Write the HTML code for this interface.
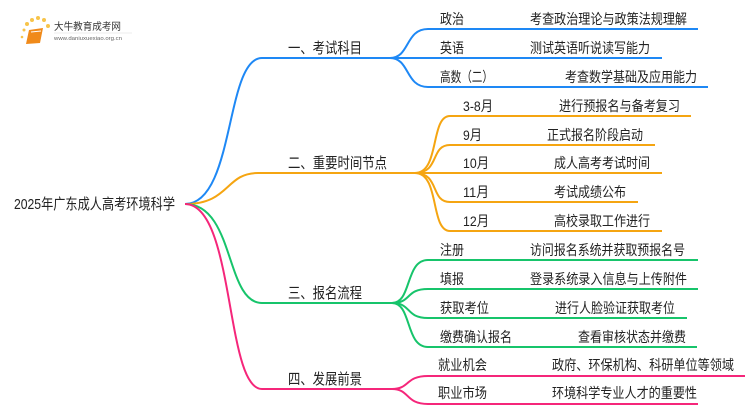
<!DOCTYPE html>
<html><head><meta charset="utf-8"><style>
html,body{margin:0;padding:0;background:#fff;}
svg{display:block;}
text{font-family:"Liberation Sans","Noto Sans CJK SC",sans-serif;fill:#222;}
</style></head><body>
<svg width="750" height="410" viewBox="0 0 750 410" xmlns="http://www.w3.org/2000/svg">
<g>
<circle cx="24" cy="30" r="1.5" fill="#f7c44a"/><circle cx="27" cy="24" r="2" fill="#f7c44a"/><circle cx="32" cy="20" r="2" fill="#f7c44a"/><circle cx="38" cy="18" r="2" fill="#f7c44a"/><circle cx="44" cy="20" r="2" fill="#f7c44a"/><circle cx="48" cy="26" r="2" fill="#f7c44a"/><circle cx="22" cy="37" r="1.3" fill="#f7c44a"/>
<path d="M29 30 L43 28 L40 43 L26 44 Z" fill="#f08a1a"/>
<path d="M31 32 L41 31" stroke="#fff" stroke-width="1"/>
<text x="54" y="30" font-size="10" textLength="67" lengthAdjust="spacingAndGlyphs" style="fill:#333">大牛教育成考网</text>
<text x="54" y="40" font-size="5.5" textLength="68" lengthAdjust="spacingAndGlyphs" style="fill:#666">www.daniuxuexiao.org.cn</text>
<line x1="54" y1="33" x2="132" y2="33" stroke="#ddd" stroke-width="0.5"/>
</g>
<text x="14" y="209" font-size="15" textLength="161" lengthAdjust="spacingAndGlyphs">2025年广东成人高考环境科学</text>
<g fill="none" stroke-width="2">
<path d="M185 204 C235 204 225 58 262 58 L390 58" stroke="#1e88f5"/>
<path d="M390 58 C410 58 405 29 428 29 L698 29" stroke="#1e88f5"/>
<path d="M390 58 L662 58" stroke="#1e88f5"/>
<path d="M390 58 C410 58 405 87 428 87 L708 87" stroke="#1e88f5"/>
<path d="M185 204 C230 204 225 173 258 173 L415 173" stroke="#f5a511"/>
<path d="M415 173 C440 173 430 116 450 116 L691 116" stroke="#f5a511"/>
<path d="M415 173 C440 173 430 145 450 145 L655 145" stroke="#f5a511"/>
<path d="M415 173 L662 173" stroke="#f5a511"/>
<path d="M415 173 C440 173 430 202 450 202 L638 202" stroke="#f5a511"/>
<path d="M415 173 C440 173 430 231 450 231 L662 231" stroke="#f5a511"/>
<path d="M185 204 C235 204 225 303 262 303 L392 303" stroke="#17c46b"/>
<path d="M392 303 C412 303 405 260 428 260 L698 260" stroke="#17c46b"/>
<path d="M392 303 C412 303 405 289 428 289 L698 289" stroke="#17c46b"/>
<path d="M392 303 C412 303 405 318 428 318 L687 318" stroke="#17c46b"/>
<path d="M392 303 C412 303 405 347 428 347 L697 347" stroke="#17c46b"/>
<path d="M185 204 C235 204 225 389 262 389 L392 389" stroke="#f5267a"/>
<path d="M392 389 C410 389 405 376 428 376 L745 376" stroke="#f5267a"/>
<path d="M392 389 C410 389 405 404 428 404 L698 404" stroke="#f5267a"/>
</g>
<g font-size="15" lengthAdjust="spacingAndGlyphs">
<text x="288" y="53" textLength="74" lengthAdjust="spacingAndGlyphs">一、考试科目</text>
<text x="288" y="168" textLength="99" lengthAdjust="spacingAndGlyphs">二、重要时间节点</text>
<text x="288" y="298" textLength="74" lengthAdjust="spacingAndGlyphs">三、报名流程</text>
<text x="288" y="384" textLength="74" lengthAdjust="spacingAndGlyphs">四、发展前景</text>
</g>
<g font-size="14">
<text x="440" y="24" textLength="24" lengthAdjust="spacingAndGlyphs">政治</text><text x="530" y="24" textLength="157" lengthAdjust="spacingAndGlyphs">考查政治理论与政策法规理解</text>
<text x="440" y="53" textLength="24" lengthAdjust="spacingAndGlyphs">英语</text><text x="530" y="53" textLength="120" lengthAdjust="spacingAndGlyphs">测试英语听说读写能力</text>
<text x="440" y="82" textLength="53" lengthAdjust="spacingAndGlyphs">高数（二）</text><text x="565" y="82" textLength="132" lengthAdjust="spacingAndGlyphs">考查数学基础及应用能力</text>
<text x="463" y="111" textLength="30" lengthAdjust="spacingAndGlyphs">3-8月</text><text x="559" y="111" textLength="121" lengthAdjust="spacingAndGlyphs">进行预报名与备考复习</text>
<text x="463" y="140" textLength="19" lengthAdjust="spacingAndGlyphs">9月</text><text x="547" y="140" textLength="96" lengthAdjust="spacingAndGlyphs">正式报名阶段启动</text>
<text x="463" y="168" textLength="26" lengthAdjust="spacingAndGlyphs">10月</text><text x="554" y="168" textLength="96" lengthAdjust="spacingAndGlyphs">成人高考考试时间</text>
<text x="463" y="197" textLength="26" lengthAdjust="spacingAndGlyphs">11月</text><text x="554" y="197" textLength="72" lengthAdjust="spacingAndGlyphs">考试成绩公布</text>
<text x="463" y="226" textLength="26" lengthAdjust="spacingAndGlyphs">12月</text><text x="554" y="226" textLength="96" lengthAdjust="spacingAndGlyphs">高校录取工作进行</text>
<text x="440" y="255" textLength="24" lengthAdjust="spacingAndGlyphs">注册</text><text x="530" y="255" textLength="155" lengthAdjust="spacingAndGlyphs">访问报名系统并获取预报名号</text>
<text x="440" y="284" textLength="24" lengthAdjust="spacingAndGlyphs">填报</text><text x="530" y="284" textLength="157" lengthAdjust="spacingAndGlyphs">登录系统录入信息与上传附件</text>
<text x="440" y="313" textLength="49" lengthAdjust="spacingAndGlyphs">获取考位</text><text x="555" y="313" textLength="120" lengthAdjust="spacingAndGlyphs">进行人脸验证获取考位</text>
<text x="440" y="342" textLength="72" lengthAdjust="spacingAndGlyphs">缴费确认报名</text><text x="578" y="342" textLength="108" lengthAdjust="spacingAndGlyphs">查看审核状态并缴费</text>
<text x="438" y="370" textLength="49" lengthAdjust="spacingAndGlyphs">就业机会</text><text x="552" y="370" textLength="182" lengthAdjust="spacingAndGlyphs">政府、环保机构、科研单位等领域</text>
<text x="438" y="398" textLength="49" lengthAdjust="spacingAndGlyphs">职业市场</text><text x="552" y="398" textLength="145" lengthAdjust="spacingAndGlyphs">环境科学专业人才的重要性</text>
</g>
</svg>
</body></html>
